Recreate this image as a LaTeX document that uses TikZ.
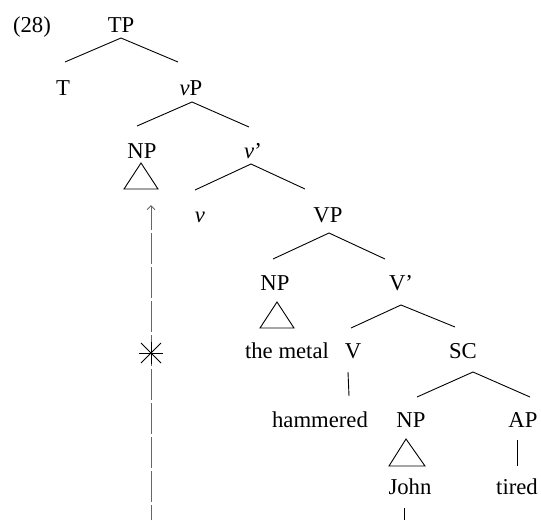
\documentclass[tikz,border=0pt]{standalone}
\usepackage{fontspec}
\setmainfont{Liberation Serif}
\usetikzlibrary{calc,arrows.meta}
\begin{document}
\begin{tikzpicture}[x=1pt,y=-1pt,
  lab/.style={anchor=base,inner sep=0pt,font=\fontsize{22.7}{26}\selectfont},
  branch/.style={line width=0.9pt},
  tri/.style={line width=0.9pt},
  trace/.style={line width=1pt,draw=black!60,dash pattern=on 31pt off 3pt,dash phase=16pt},
  startip/.style={line width=0.9pt}]
\useasboundingbox (0,0) rectangle (541,520);
% labels
\node[lab] (ex) at (32,32) {(28)};
\node[lab] (TP) at (121,32) {TP};
\node[lab] (T) at (63,95) {T};
\node[lab] (vP) at (191,95) {\textit{v}P};
\node[lab] (NPa) at (142,158) {NP};
\node[lab] (vbar) at (253,158) {\textit{v}’};
\node[lab] (v) at (200,222) {\textit{v}};
\node[lab] (VP) at (328,222) {VP};
\node[lab] (NPb) at (275,290) {NP};
\node[lab] (Vbar) at (401,290) {V’};
\node[lab] (metal) at (287,358) {the metal};
\node[lab] (V) at (353,358) {V};
\node[lab] (SC) at (463,358) {SC};
\node[lab] (hammered) at (320,427) {hammered};
\node[lab] (NPc) at (411,427) {NP};
\node[lab] (AP) at (523,427) {AP};
\node[lab] (John) at (410,494) {John};
\node[lab] (tired) at (517,494) {tired};
% branches
\draw[branch] ($(TP.base)+(0,6)$) -- ($(T.base)+(2,-33)$);
\draw[branch] ($(TP.base)+(0,6)$) -- ($(vP.base)+(-13,-33)$);
\draw[branch] ($(vP.base)+(1,7)$) -- ($(NPa.base)+(-5,-32)$);
\draw[branch] ($(vP.base)+(1,7)$) -- ($(vbar.base)+(-4,-31)$);
\draw[branch] ($(vbar.base)+(-2,6)$) -- ($(v.base)+(-5,-32)$);
\draw[branch] ($(vbar.base)+(-2,6)$) -- ($(VP.base)+(-23,-33)$);
\draw[branch] ($(VP.base)+(1,11)$) -- ($(NPb.base)+(-2,-31)$);
\draw[branch] ($(VP.base)+(1,11)$) -- ($(Vbar.base)+(-16,-31)$);
\draw[branch] ($(Vbar.base)+(0,15)$) -- ($(V.base)+(-2,-30)$);
\draw[branch] ($(Vbar.base)+(0,15)$) -- ($(SC.base)+(-8,-31)$);
\draw[branch] ($(V.base)+(-5,14)$) -- ($(hammered.base)+(29,-31)$);
\draw[branch] ($(SC.base)+(10,14)$) -- ($(NPc.base)+(6,-30)$);
\draw[branch] ($(SC.base)+(10,14)$) -- ($(AP.base)+(7,-30)$);
\draw[branch] ($(AP.base)+(-6,13)$) -- ($(tired.base)+(0,-28)$);
% triangles
\draw[tri] ($(NPa.base)+(-1,5)$) -- ($(NPa.base)+(-18,31)$) -- ($(NPa.base)+(16,31)$) -- cycle;
\draw[tri] ($(NPb.base)+(2,12)$) -- ($(NPb.base)+(-15,38)$) -- ($(NPb.base)+(19,38)$) -- cycle;
\draw[tri] ($(NPc.base)+(-5,12)$) -- ($(NPc.base)+(-22,39)$) -- ($(NPc.base)+(14,39)$) -- cycle;
% line below John
\coordinate (Jend) at (404,520);
\draw[branch] ($(John.base)+(-6,14)$) -- (Jend);
% trace line with star
\coordinate (tbot) at (151,520);
\coordinate (ttop) at (151,205);
\coordinate (star) at (151,353);
\draw[trace,-{Straight Barb[length=4pt,width=8pt,line width=0.9pt]}] (tbot) -- (ttop);
\draw[startip] ($(star)+(-12,0)$) -- ($(star)+(12,0)$);
\draw[startip] ($(star)+(-10,-10)$) -- ($(star)+(10,10)$);
\draw[startip] ($(star)+(-10,10)$) -- ($(star)+(10,-10)$);
\draw[startip] ($(star)+(0,-11)$) -- ($(star)+(0,11)$);
\end{tikzpicture}
\end{document}
